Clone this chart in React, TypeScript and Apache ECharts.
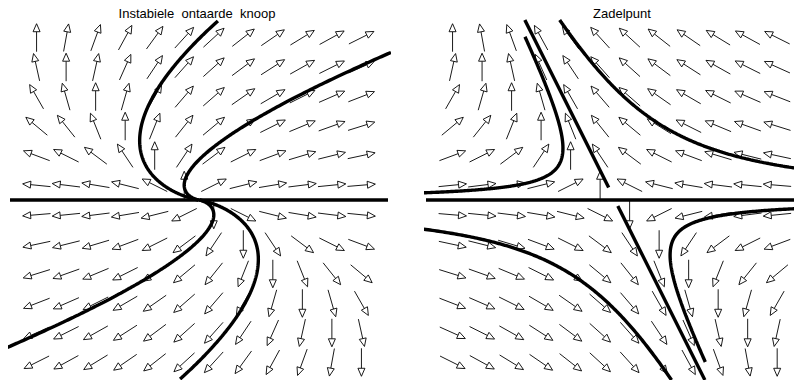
import React, { useEffect, useRef } from 'react';
import * as echarts from 'echarts';

// grid positions of the direction-field arrows (both panels)
const gridTicks = [-5.5, -4.5, -3.5, -2.5, -1.5, -0.5, 0.5, 1.5, 2.5, 3.5, 4.5, 5.5];
// linear systems read from the field: [x', y'] = M [x, y]
const leftMatrix = [[1, 1], [0, 1]];
const rightMatrix = [[-1, -1], [0, 1]];
// trajectory start points, integrated backward in time
const leftStarts = [[0.64, 6.07], [6.5, 5.0], [-6.5, -5.0], [-0.64, -6.07]];
const rightStarts = [[-3.045, 5.53], [-1.87, 6.1], [1.92, -6.1], [3.064, -5.49]];
// straight trajectory (unstable eigen-direction) of the saddle
const rightLineUpper = [[-0.21, 0.42], [-3.05, 6.1]];
const rightLineLower = [[0.1, -0.2], [3.05, -6.1]];
// horizontal trajectory along the x-axis
const leftAxisLine = [[-6.4, 0], [6.4, 0]];
const rightAxisLine = [[-6.4, 0], [6.07, 0]];
const titles = ['Instabiele  ontaarde  knoop', 'Zadelpunt'];

function field(m: number[][], x: number, y: number) {
  return [m[0][0] * x + m[0][1] * y, m[1][0] * x + m[1][1] * y];
}

function integrate(m: number[][], start: number[], dt: number, steps: number, box: number) {
  let x = start[0], y = start[1];
  const pts: number[][] = [[x, y]];
  for (let i = 0; i < steps; i++) {
    const k1 = field(m, x, y);
    const k2 = field(m, x + (dt / 2) * k1[0], y + (dt / 2) * k1[1]);
    const k3 = field(m, x + (dt / 2) * k2[0], y + (dt / 2) * k2[1]);
    const k4 = field(m, x + dt * k3[0], y + dt * k3[1]);
    x += (dt / 6) * (k1[0] + 2 * k2[0] + 2 * k3[0] + k4[0]);
    y += (dt / 6) * (k1[1] + 2 * k2[1] + 2 * k3[1] + k4[1]);
    pts.push([x, y]);
    if (Math.abs(x) > box || Math.abs(y) > box) break;
    if (Math.hypot(x, y) < 0.002) break;
  }
  return pts;
}

function arrowSeries(m: number[][], idx: number) {
  const data: number[][] = [];
  gridTicks.forEach((u) => gridTicks.forEach((v) => data.push([u, v])));
  return {
    type: 'custom',
    xAxisIndex: idx,
    yAxisIndex: idx,
    z: 2,
    silent: true,
    data,
    renderItem: (_params: any, api: any) => {
      const u = api.value(0);
      const v = api.value(1);
      const d = field(m, u, v);
      const c = api.coord([u, v]);
      const c2 = api.coord([u + d[0] * 1e-3, v + d[1] * 1e-3]);
      let px = c2[0] - c[0];
      let py = c2[1] - c[1];
      const n = Math.hypot(px, py) || 1;
      px /= n;
      py /= n;
      const L = 28, h = 8, w = 3.5;
      const tail = [c[0] - (px * L) / 2, c[1] - (py * L) / 2];
      const tip = [c[0] + (px * L) / 2, c[1] + (py * L) / 2];
      const base = [tip[0] - px * h, tip[1] - py * h];
      const nx = -py, ny = px;
      return {
        type: 'group',
        children: [
          {
            type: 'line',
            shape: { x1: tail[0], y1: tail[1], x2: base[0], y2: base[1] },
            style: { stroke: '#000', lineWidth: 0.9 },
          },
          {
            type: 'polygon',
            shape: {
              points: [tip, [base[0] + nx * w, base[1] + ny * w], [base[0] - nx * w, base[1] - ny * w]],
            },
            style: { stroke: '#000', fill: '#fff', lineWidth: 0.9 },
          },
        ],
      };
    },
  };
}

function lineSeries(data: number[][], idx: number) {
  return {
    type: 'line',
    xAxisIndex: idx,
    yAxisIndex: idx,
    data,
    showSymbol: false,
    symbol: 'none',
    clip: true,
    z: 3,
    silent: true,
    lineStyle: { color: '#000', width: 3.4 },
  };
}

export default function App() {
  const ref = useRef<HTMLDivElement>(null);
  useEffect(() => {
    if (!ref.current) return;
    const chart = echarts.init(ref.current, undefined, { renderer: 'svg' });
    const series: any[] = [arrowSeries(leftMatrix, 0), arrowSeries(rightMatrix, 1)];
    series.push(lineSeries(leftAxisLine, 0));
    series.push(lineSeries(rightAxisLine, 1));
    leftStarts.forEach((s) => series.push(lineSeries(integrate(leftMatrix, s, -0.01, 3000, 8), 0)));
    rightStarts.forEach((s) => series.push(lineSeries(integrate(rightMatrix, s, -0.01, 3000, 8), 1)));
    series.push(lineSeries(rightLineUpper, 1));
    series.push(lineSeries(rightLineLower, 1));
    chart.setOption({
      animation: false,
      backgroundColor: '#fff',
      grid: [
        { left: 10, top: 20, width: 378, height: 360 },
        { left: 426, top: 20, width: 368, height: 360 },
      ],
      xAxis: [
        { gridIndex: 0, type: 'value', min: -6.4, max: 6.4, show: false },
        { gridIndex: 1, type: 'value', min: -6.4, max: 6.07, show: false },
      ],
      yAxis: [
        { gridIndex: 0, type: 'value', min: -6.1, max: 6.1, show: false },
        { gridIndex: 1, type: 'value', min: -6.1, max: 6.1, show: false },
      ],
      graphic: [
        {
          type: 'text',
          x: 197,
          y: 13,
          style: {
            text: titles[0],
            font: '13px "Liberation Sans", Arial, sans-serif',
            fill: '#000',
            textAlign: 'center',
            textVerticalAlign: 'middle',
          },
        },
        {
          type: 'text',
          x: 622,
          y: 13,
          style: {
            text: titles[1],
            font: '13px "Liberation Sans", Arial, sans-serif',
            fill: '#000',
            textAlign: 'center',
            textVerticalAlign: 'middle',
          },
        },
      ],
      series,
    });
    return () => chart.dispose();
  }, []);
  return <div ref={ref} style={{ position: 'fixed', left: 0, top: 0, width: 794, height: 380 }} />;
}
